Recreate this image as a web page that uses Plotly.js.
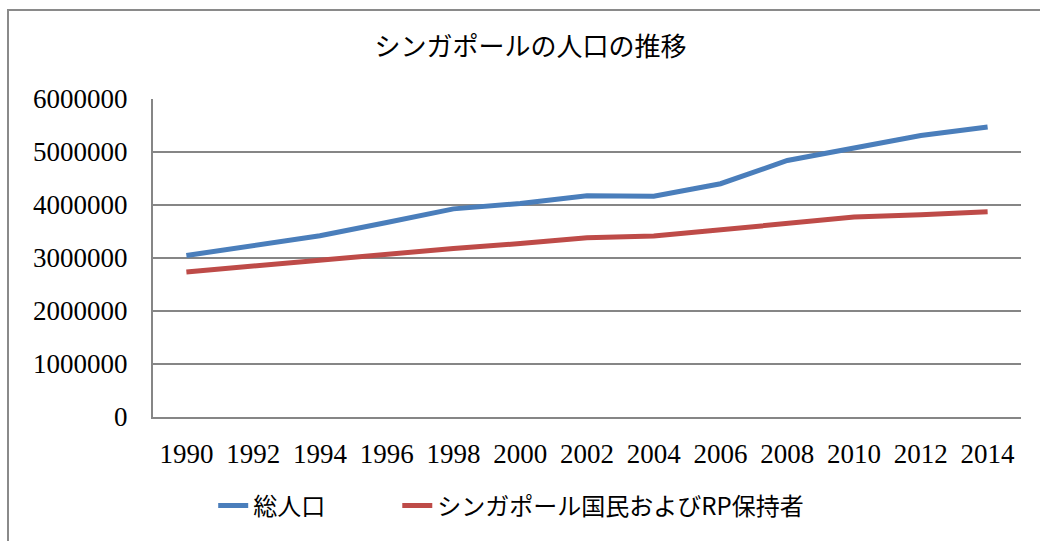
<!DOCTYPE html>
<html>
<head>
<meta charset="utf-8">
<script src="https://cdn.plot.ly/plotly-3.0.1.min.js"></script>
<style>
html,body{margin:0;padding:0;width:1040px;height:541px;overflow:hidden;background:#fff;}
#frame{position:absolute;left:7px;top:9px;width:1100px;height:600px;border-left:2px solid #8a8a8a;border-top:2px solid #8a8a8a;}
#chart{position:absolute;left:0;top:0;width:1040px;height:541px;}
</style>
</head>
<body>
<div id="frame"></div>
<div id="chart"></div>
<script>
const years = ['1990','1992','1994','1996','1998','2000','2002','2004','2006','2008','2010','2012','2014'];
const totalPopulation = [3047132,3230698,3419048,3670704,3927213,4027887,4175950,4166664,4401365,4839396,5076732,5312437,5469724];
const residentPopulation = [2735868,2849747,2959846,3068093,3180018,3273363,3382944,3413266,3525894,3642659,3771721,3818205,3870739];
const seriesNames = ['総人口','シンガポール国民およびRP保持者'];
const chartTitle = 'シンガポールの人口の推移';

const traces = [
  {x: years, y: totalPopulation, name: seriesNames[0], type: 'scatter', mode: 'lines',
   line: {color: '#4A7EBB', width: 5}, legend: 'legend'},
  {x: years, y: residentPopulation, name: seriesNames[1], type: 'scatter', mode: 'lines',
   line: {color: '#BE4B48', width: 5}, legend: 'legend2'}
];

const legendFont = {family: '"Noto Sans CJK JP", sans-serif', size: 24, color: '#000'};

const layout = {
  width: 1040, height: 541,
  paper_bgcolor: 'rgba(0,0,0,0)', plot_bgcolor: 'rgba(0,0,0,0)',
  margin: {l: 153, r: 19, t: 99, b: 124},
  title: {text: chartTitle, x: 0.51, xref: 'container', y: 0.913, yref: 'container', xanchor: 'center', yanchor: 'middle',
          font: {family: '"Noto Sans CJK JP", sans-serif', size: 26, color: '#000'}},
  showlegend: true,
  legend: {orientation: 'h', x: 0.205, xref: 'container', xanchor: 'left', y: 0.065, yref: 'container', yanchor: 'middle',
           font: legendFont},
  legend2: {orientation: 'h', x: 0.382, xref: 'container', xanchor: 'left', y: 0.065, yref: 'container', yanchor: 'middle',
           font: legendFont},
  xaxis: {type: 'category', range: [-0.5, 12.5], showgrid: false, zeroline: false,
          showline: true, linecolor: '#868686', linewidth: 2,
          ticks: 'outside', ticklen: 12, tickcolor: 'rgba(0,0,0,0)',
          tickfont: {family: '"Liberation Serif", serif', size: 27, color: '#000'},
          fixedrange: true},
  yaxis: {range: [0, 6000000], dtick: 1000000, tickformat: 'd',
          showgrid: true, gridcolor: '#868686', gridwidth: 2,
          zeroline: false, showline: true, linecolor: '#868686', linewidth: 2,
          ticks: 'outside', ticklen: 18, tickcolor: 'rgba(0,0,0,0)',
          tickfont: {family: '"Liberation Serif", serif', size: 27, color: '#000'},
          fixedrange: true}
};

Plotly.newPlot('chart', traces, layout, {displayModeBar: false, staticPlot: true});
</script>
</body>
</html>
